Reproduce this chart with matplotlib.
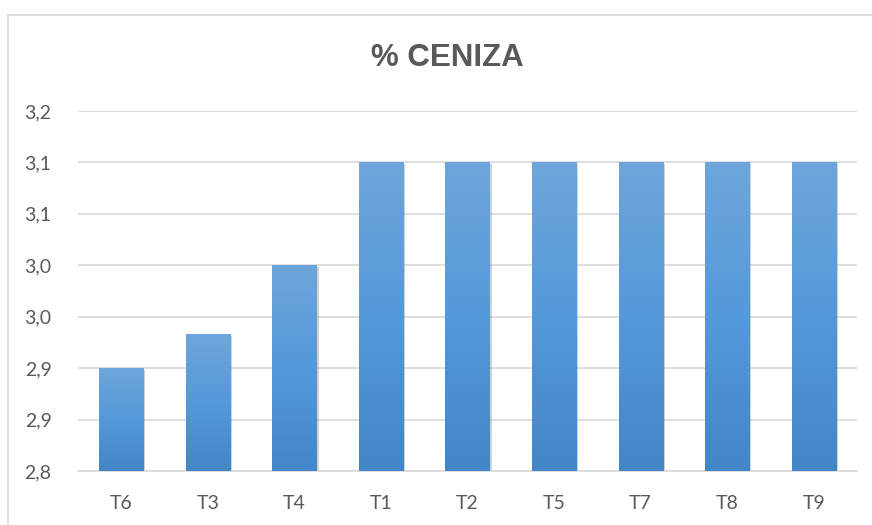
import numpy as np
import matplotlib.pyplot as plt
import matplotlib.patheffects as pe
from matplotlib.colors import LinearSegmentedColormap
from matplotlib.lines import Line2D

categories = ["T6", "T3", "T4", "T1", "T2", "T5", "T7", "T8", "T9"]
ceniza = [2.90, 2.933, 3.00, 3.10, 3.10, 3.10, 3.10, 3.10, 3.10]
y_ticks = [2.80, 2.85, 2.90, 2.95, 3.00, 3.05, 3.10, 3.15]
y_tick_labels = ["2,8", "2,9", "2,9", "3,0", "3,0", "3,1", "3,1", "3,2"]

text_color = "#595959"
grid_color = "#d9d9d9"

fig = plt.figure(figsize=(8.72, 5.25), dpi=100)
ax = fig.add_axes([78 / 872, 1 - 471 / 525, (857 - 78) / 872, (471 - 111) / 525])

# gradient fill: lighter on top, darker at the bottom
cmap = LinearSegmentedColormap.from_list("bar_grad", ["#4386c7", "#5499db", "#6ea6da"])
grad = np.linspace(0, 1, 256).reshape(-1, 1)

x = np.arange(len(categories))
bars = ax.bar(x, [v - 2.8 for v in ceniza], bottom=2.8, width=0.51,
              color="#5499db", zorder=2,
              path_effects=[pe.SimplePatchShadow(offset=(1.5, -1), shadow_rgbFace="#808080", alpha=0.35),
                            pe.Normal()])
for b in bars:
    x0, y0 = b.get_x(), b.get_y()
    ax.imshow(grad, cmap=cmap, origin="lower", aspect="auto", zorder=3,
              extent=(x0, x0 + b.get_width(), y0, y0 + b.get_height()))

ax.set_xlim(-0.5, len(categories) - 0.5)
ax.set_ylim(2.8, 3.15)
ax.set_yticks(y_ticks)
ax.set_yticklabels(y_tick_labels)
ax.set_xticks(x)
ax.set_xticklabels(categories)

ax.grid(axis="y", color=grid_color, linewidth=1.2, zorder=0)
ax.set_axisbelow(True)
for side in ["top", "right", "left"]:
    ax.spines[side].set_visible(False)
ax.spines["bottom"].set_color(grid_color)
ax.spines["bottom"].set_linewidth(1.2)
ax.tick_params(length=0, labelsize=14, labelcolor=text_color)
ax.tick_params(axis="x", pad=17)
ax.tick_params(axis="y", pad=19)
for lbl in ax.get_xticklabels() + ax.get_yticklabels():
    lbl.set_fontfamily("Lato")

fig.text(447 / 872, 1 - 58 / 525, "% CENIZA", ha="center", va="center",
         fontsize=22.5, fontweight="bold", color=text_color, family="Liberation Sans")

# chart area border (only top and left visible)
fig.add_artist(Line2D([8 / 872, 8 / 872], [0, 1 - 15 / 525], color=grid_color, linewidth=1.2))
fig.add_artist(Line2D([8 / 872, 1], [1 - 15 / 525, 1 - 15 / 525], color=grid_color, linewidth=1.2))

fig.savefig("out.png", dpi=100)
